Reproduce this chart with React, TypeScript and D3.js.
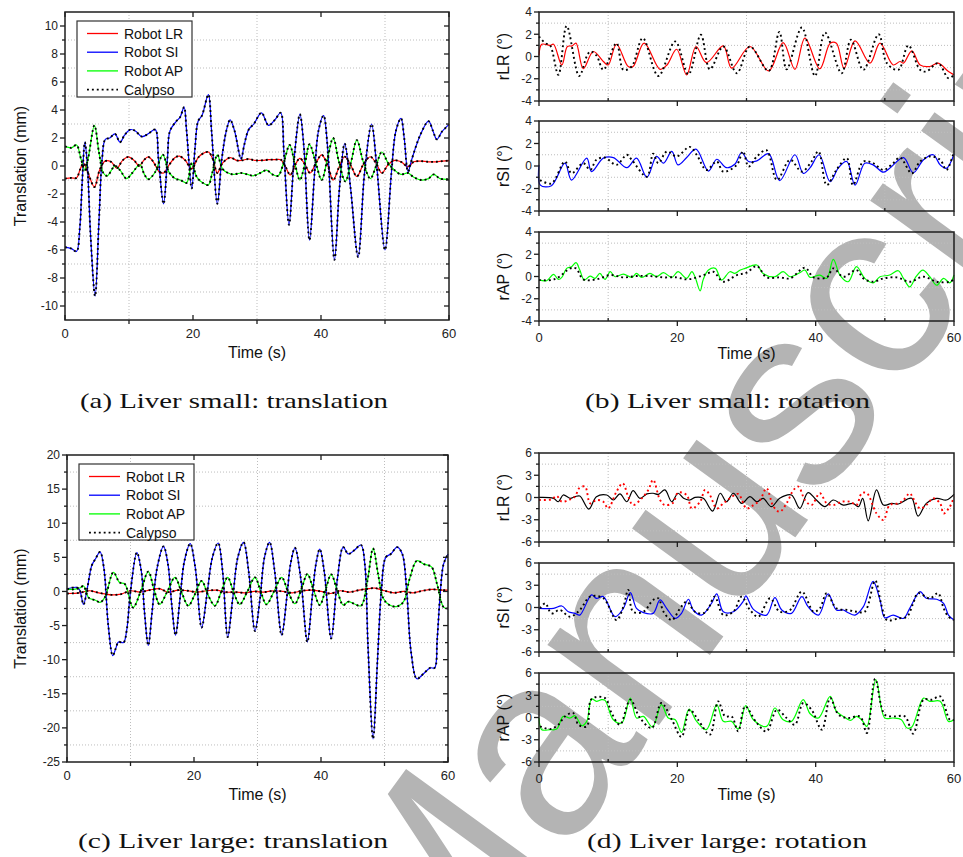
import React, { useEffect, useRef } from "react";
import * as d3 from "d3";

type Pt = [number, number];

// ---- tick labels ----
const timeTicks = [0, 20, 40, 60];
const smallTransTicks = [-10, -8, -6, -4, -2, 0, 2, 4, 6, 8, 10];
const largeTransTicks = [-25, -20, -15, -10, -5, 0, 5, 10, 15, 20];
const smallRotTicks = [-4, -2, 0, 2, 4];
const largeRotTicks = [-6, -3, 0, 3, 6];

const legendLabels = ["Robot LR", "Robot SI", "Robot AP", "Calypso"];
const rotLabels = ["rLR (°)", "rSI (°)", "rAP (°)"];
const captions = [
  "(a) Liver small: translation",
  "(b) Liver small: rotation",
  "(c) Liver large: translation",
  "(d) Liver large: rotation",
];
const watermark = "Manuscript";

// ---- (a) liver small, translation (mm) ----
const smallRobotLR: Pt[] = [[0,-0.9],[1.0,-0.85],[1.8,-0.85],[2.4,-0.2],[2.9,0.2],[3.6,-0.5],[4.6,-1.5],[5.4,-0.3],[6.25,0.35],[7.2,0.3],[8.1,-0.15],[9.0,0.4],[9.9,0.65],[10.8,0.4],[11.6,0.0],[12.3,0.4],[13.0,0.65],[13.8,0.3],[14.7,-0.4],[15.4,-0.5],[16.3,0.1],[17.2,0.6],[17.9,0.7],[18.8,0.4],[19.8,-0.2],[20.8,0.6],[21.6,0.9],[22.4,1.0],[23.1,0.5],[23.8,-0.5],[24.6,0.2],[25.8,0.6],[26.8,0.4],[27.6,0.4],[28.7,0.5],[29.7,0.4],[30.7,0.4],[31.8,0.45],[32.8,0.45],[33.7,0.45],[34.4,0.0],[35.2,-0.64],[36.0,0.1],[36.7,0.55],[37.5,0.1],[38.3,-0.5],[39.2,0.2],[40.1,0.8],[41.0,0.1],[41.9,-1.0],[42.8,-0.1],[43.7,0.66],[44.7,0.0],[45.6,-0.75],[46.6,0.1],[47.7,0.66],[48.6,0.2],[49.5,-0.5],[50.5,0.1],[51.5,0.4],[52.5,0.3],[53.6,-0.05],[54.5,0.3],[55.5,0.35],[56.8,0.3],[58.0,0.3],[59.0,0.35],[60,0.38]];
const smallRobotSI: Pt[] = [[0,-5.8],[1.0,-5.9],[1.8,-6.1],[2.3,-4.5],[2.7,-1],[3.1,1.7],[3.5,0],[4.0,-5],[4.7,-9.3],[5.3,-4],[5.8,0.5],[6.3,1.9],[7.0,2.0],[7.8,2.3],[8.6,1.7],[9.3,2.2],[10.2,2.6],[11.0,2.5],[12.0,2.1],[13.0,2.3],[14.1,2.6],[14.6,0.5],[15.4,-2.7],[16.0,0.5],[16.4,2.5],[17.4,3.2],[18.0,3.5],[18.6,4.2],[19.0,2.5],[19.8,-1.6],[20.3,1.2],[20.8,3.2],[21.4,3.6],[22.4,5.1],[22.9,2.5],[23.8,-2.7],[24.5,0.5],[25.2,2.5],[25.8,3.3],[26.5,2.5],[27.5,0.5],[28.0,1.5],[28.7,2.6],[29.5,3.0],[30.7,3.8],[31.8,2.9],[32.8,3.3],[33.7,3.8],[34.2,1],[35.0,-4.2],[35.8,0.5],[36.7,3.7],[37.3,1.5],[38.2,-5.3],[39.0,-0.5],[39.6,2.5],[40.4,3.6],[41.0,1.5],[42.1,-6.7],[42.9,-1.5],[43.7,1.6],[44.6,-1.5],[45.8,-6.5],[46.8,-0.5],[47.9,3.0],[48.7,0],[50.0,-6.0],[51.0,-0.5],[51.7,2.5],[52.5,3.4],[53.0,2.0],[53.6,-0.4],[54.2,0.5],[55.5,2.2],[56.8,3.2],[57.5,2.5],[58.1,1.9],[58.9,2.45],[60,2.97]];
const smallRobotAP: Pt[] = [[0,1.4],[1.0,1.3],[1.8,1.5],[2.5,0.5],[3.1,-0.3],[3.6,0.5],[4.6,2.9],[5.3,1.0],[6.0,-0.5],[6.6,-0.7],[7.8,0.0],[8.6,-0.3],[9.6,-0.9],[10.5,-0.5],[11.7,0.1],[12.4,-0.6],[13.0,-0.95],[14.0,-0.5],[15.3,0.8],[16.2,-0.4],[17.2,-0.9],[18.0,-1.0],[19.0,-1.2],[19.8,0.2],[20.6,-0.8],[21.5,-1.2],[22.4,-1.35],[23.0,-0.5],[23.8,0.8],[24.6,-0.2],[25.5,-0.5],[26.3,-0.6],[27.5,-0.5],[28.5,-0.6],[29.4,-0.7],[30.5,-0.5],[31.5,-0.3],[32.4,-0.6],[33.3,-0.7],[34.2,0.3],[35.1,1.5],[35.9,0.2],[36.7,-1.0],[37.5,0.2],[38.2,1.55],[39.2,0.2],[40.1,-1.0],[41.0,0.5],[41.9,2.0],[42.8,0.3],[43.8,-1.1],[44.7,0.3],[45.6,1.85],[46.6,0.3],[47.7,-0.9],[48.6,0],[49.5,1.0],[50.5,0.2],[51.5,-0.3],[52.5,-0.6],[53.6,-0.5],[54.5,-0.8],[55.7,-1.0],[56.8,-0.9],[57.6,-0.6],[58.6,-0.9],[60,-0.95]];
// Calypso traces lie on top of the robot traces in the translation plots
const smallCalypsoLR = smallRobotLR;
const smallCalypsoSI = smallRobotSI;
const smallCalypsoAP = smallRobotAP;

// ---- (b) liver small, rotation (deg) ----
const smallRobotRLR: Pt[] = [[0,0.1],[0.4,1.1],[1.6,1.0],[2.1,1.1],[3.3,-0.76],[4.1,0.9],[4.8,0.95],[5.35,1.2],[6.4,-1.1],[7.85,0.45],[9.3,-0.45],[10.0,-0.76],[11.2,1.1],[12.9,-0.9],[13.6,-0.9],[15.2,1.2],[17.5,-1.15],[18.5,-0.76],[19.9,0.65],[21.35,-1.65],[22.7,0.9],[24.2,-0.55],[26.65,0.95],[27.85,-1.05],[30.5,0.9],[33.2,-1.3],[35.3,1.25],[37.0,-1.15],[38.45,1.65],[40.6,-1.1],[42.1,1.2],[43.0,1.2],[44.1,-1.05],[45.7,1.4],[47.85,-0.6],[49.3,1.2],[51.2,-0.76],[52.2,-0.45],[52.7,-0.6],[53.9,0.5],[55.1,-0.76],[56.5,-0.9],[57.7,-0.6],[59.2,-1.35],[60,-1.65]];
const smallCalypsoRLR: Pt[] = [[0,1.8],[0.9,1.2],[1.6,1.0],[2.8,-1.65],[4.0,2.75],[5.8,-1.75],[6.9,0],[7.4,0.45],[8.3,0.1],[9.3,-1.2],[11.2,1.2],[12.2,-1.2],[13.4,-0.9],[15.0,1.65],[17.25,-1.75],[19.7,1.35],[21.6,-1.6],[23.4,1.95],[24.7,-1.15],[26.65,0.9],[28.6,-1.5],[30.5,0.9],[33.2,-1.3],[34.75,2.2],[35.8,-1.15],[38.0,2.6],[39.9,-1.75],[41.35,2.15],[43.75,-1.5],[45.1,1.5],[46.9,-1.2],[49.1,2.0],[50.3,-0.6],[51.95,-1.2],[53.4,1.0],[55.1,-1.2],[56.0,-1.35],[57.7,-0.6],[59.2,-1.95],[60,-1.65]];
const smallRobotRSI: Pt[] = [[0,0.1],[0.2,-1.7],[1.8,-1.75],[3.75,0.25],[4.7,-1.25],[6.9,0.7],[7.6,-0.5],[9.3,0.7],[10.75,0.75],[12.7,-0.15],[14.1,0.7],[15.6,-1.0],[17.0,0.85],[18.0,0.25],[19.2,1.3],[20.1,0.1],[21.35,0.75],[22.7,1.5],[24.5,-0.45],[25.7,0.6],[27.1,-0.15],[28.3,0.15],[29.3,1.2],[30.3,0.4],[31.5,0.45],[33.2,1.1],[34.8,-1.3],[37.0,1.0],[38.2,-0.65],[39.2,-0.15],[40.5,1.0],[42.1,-1.4],[43.3,-0.15],[44.5,0.4],[45.7,-1.7],[47.1,0.25],[48.3,0.1],[49.8,-0.55],[50.7,-0.2],[52.7,0.75],[54.1,-0.6],[55.6,0.55],[57.0,1.0],[58.0,0.1],[58.9,-0.2],[60,1.05]];
const smallCalypsoRSI: Pt[] = [[0.15,-1.25],[1.8,-1.55],[3.75,0.4],[4.7,-0.65],[6.4,0.25],[7.4,-0.35],[8.3,0.55],[9.5,0.75],[11.2,0.1],[12.7,1.0],[13.4,0.55],[15.6,-0.95],[16.5,1.1],[17.25,0.25],[18.5,1.3],[19.9,0.85],[21.8,1.7],[22.8,1.0],[24.2,-0.35],[25.7,0.4],[26.65,-0.5],[28.6,0.1],[29.5,1.3],[30.3,-0.05],[31.5,0.85],[32.9,1.4],[34.4,-1.25],[36.3,0.55],[38.0,-0.5],[39.4,0.4],[40.4,1.3],[41.6,-1.7],[43.0,-0.35],[44.5,0.7],[45.4,-1.7],[46.9,0.4],[48.3,0.25],[49.8,-0.35],[51.2,0.25],[52.2,0.75],[53.9,-0.65],[55.1,0.4],[56.5,0.85],[58.0,0.55],[58.9,-0.35],[60,1.3]];
const smallRobotRAP: Pt[] = [[0,-0.3],[1.1,-0.38],[2.1,0.19],[2.8,-0.26],[3.3,-0.08],[4.0,0.73],[4.7,0.88],[5.35,1.24],[5.9,0.58],[6.55,-0.32],[7.4,0.04],[8.1,-0.17],[8.8,0.28],[9.55,-0.26],[10.3,0.43],[11.0,-0.02],[12.2,0.22],[13.4,-0.08],[14.1,0.28],[14.85,-0.08],[16.05,0.28],[17.0,-0.02],[18.0,0.34],[19.2,-0.08],[20.1,0.43],[21.35,-0.17],[22.1,0.43],[22.55,-0.02],[23.3,-1.29],[23.75,-0.26],[24.5,0.58],[25.5,0.73],[26.4,-0.32],[27.6,0.43],[28.3,0.28],[29.1,0.58],[29.8,0.73],[31.5,1.03],[32.4,0.28],[34.1,-0.02],[35.3,0.43],[36.3,-0.02],[37.7,0.34],[38.45,0.58],[39.2,-0.08],[40.6,0.13],[41.6,-0.17],[42.55,1.54],[43.5,0.13],[44.7,-0.47],[45.9,0.88],[47.1,-0.17],[48.3,-0.57],[49.3,-0.02],[50.7,0.13],[51.95,0.52],[52.7,-0.17],[53.6,-0.93],[54.5,-0.02],[55.5,0.58],[56.5,-0.02],[57.5,-0.78],[58.5,-0.17],[59.4,-0.57],[60,0.13]];
const smallCalypsoRAP: Pt[] = [[0,-0.32],[1.8,-0.32],[2.8,-0.08],[4.5,0.73],[5.35,0.73],[6.4,-0.26],[8.3,-0.26],[10.3,0.13],[12.2,-0.08],[14.1,0.04],[16.05,0.04],[18.0,-0.08],[19.9,-0.08],[21.35,-0.26],[22.8,-0.08],[24.2,0.22],[25.2,0.43],[26.65,-0.47],[28.6,0.13],[30.0,0.34],[31.5,0.94],[32.9,-0.08],[34.8,-0.08],[36.3,-0.17],[38.45,0.79],[39.7,-0.08],[41.6,-0.08],[42.55,0.73],[44.0,-0.02],[45.9,0.58],[46.9,-0.17],[48.3,-0.47],[49.8,-0.17],[51.7,-0.08],[53.6,-0.47],[55.6,-0.02],[57.5,-0.47],[59.4,-0.47],[60,-0.26]];

// ---- (c) liver large, translation (mm) ----
const largeRobotLR: Pt[] = [[0,-0.3],[2.0,-0.2],[3.5,0.1],[5.0,-0.2],[7.0,-0.5],[8.5,-0.4],[10.0,0.1],[11.5,-0.1],[13.0,0.2],[14.5,0.4],[16.0,-0.1],[17.5,0.2],[19.0,0.1],[20.5,-0.1],[22.0,0.1],[23.5,0.2],[25.0,-0.1],[26.5,-0.1],[28.0,-0.2],[29.5,0.0],[31.0,-0.1],[32.5,0.1],[34.0,0.0],[35.5,-0.2],[37.0,0.1],[38.5,0.2],[40.0,0.0],[41.5,-0.3],[43.0,0.1],[44.5,-0.1],[46.0,0.2],[47.5,0.4],[48.5,0.5],[50.0,0.1],[51.5,-0.2],[53.0,0.0],[54.5,-0.2],[56.0,0.1],[57.5,0.3],[59.0,0.2],[60,0.2]];
const largeRobotSI: Pt[] = [[0,0.35],[1.5,0.6],[2.0,0.2],[2.6,-1.9],[3.2,0.5],[3.9,3.8],[4.5,4.8],[5.2,5.8],[5.8,3.5],[6.5,-5],[7.2,-9.4],[7.7,-8.3],[8.1,-7.4],[8.9,-7.5],[9.4,-5.7],[10.0,0],[11.0,5.7],[11.7,3],[12.2,-3],[12.8,-7.9],[13.4,-3],[14.2,3.5],[15.2,6.6],[15.9,4],[16.5,-2],[17.1,-6.4],[17.8,-1],[18.5,4.5],[19.4,7.0],[20.2,3.5],[21.2,-5.3],[22.1,0],[22.9,5],[23.8,7.1],[24.5,3],[25.3,-6.7],[26.1,-1],[26.9,5],[27.8,7.2],[28.6,3],[29.6,-5.8],[30.4,-1],[31.1,5],[31.9,7.2],[32.7,3],[33.8,-6.4],[34.6,-1],[35.2,4],[35.9,6.4],[36.8,2],[37.85,-7.4],[38.6,-1],[39.2,4],[39.8,6.2],[40.5,3],[41.6,-6.9],[42.6,2],[43.5,6.5],[44.3,5.5],[45.2,6.0],[46.3,6.8],[46.9,4],[47.4,-8],[48.2,-21.6],[48.9,-10],[49.5,0],[50.2,5.0],[51.0,5.5],[52.0,6.5],[52.8,5.5],[53.5,0],[54.2,-9],[55.1,-12.8],[56.1,-12.1],[57.2,-11.2],[57.9,-11.2],[58.3,-7],[58.8,0],[59.3,4],[60,5.5]];
const largeRobotAP: Pt[] = [[0,0.35],[1.0,0.3],[2.0,0.5],[2.6,0.8],[3.4,-0.9],[4.5,-1.3],[5.2,-1.6],[6.0,-0.8],[7.3,2.8],[8.3,1.3],[9.1,1.1],[10.4,-2.35],[11.6,0],[12.8,2.9],[13.7,0.3],[14.6,-1.9],[15.8,0],[17.0,2.05],[18.0,0],[19.1,-2.1],[20.1,-0.5],[21.2,1.55],[22.2,-0.5],[23.3,-2.1],[24.3,0],[25.3,2.05],[26.2,0],[27.2,-1.9],[28.4,0],[29.6,2.05],[30.5,0],[31.4,-1.9],[32.6,0],[33.8,2.05],[34.8,0],[35.9,-1.8],[36.9,0.3],[37.85,2.55],[38.8,0.3],[39.8,-2.0],[40.7,0.2],[41.6,2.5],[42.6,0],[43.5,-2.0],[44.3,-1.5],[45.2,-1.8],[46.3,-2.1],[47.3,1.5],[48.2,6.3],[49.0,2.5],[49.8,-1],[50.8,-2.0],[52.0,-2.2],[53.0,-1.5],[54.0,2],[55.1,4.5],[56.2,4.0],[57.4,3.6],[58.3,1],[59.3,-2.3],[60,-2.5]];
const largeCalypsoLR = largeRobotLR;
const largeCalypsoSI = largeRobotSI;
const largeCalypsoAP = largeRobotAP;

// ---- (d) liver large, rotation (deg) ----
const largeRobotRLR: Pt[] = [[0,0.02],[2.1,-0.11],[2.8,-0.57],[3.5,0.34],[4.5,-0.11],[5.2,0.11],[5.9,0.2],[7.2,-1.56],[8.3,0.11],[9.8,0.34],[10.75,-0.34],[11.7,0.48],[12.7,-0.57],[13.6,0.93],[14.6,-0.11],[15.6,0.48],[16.5,0.57],[17.25,0.43],[18.2,1.02],[19.2,-0.57],[20.1,0.57],[20.9,-0.11],[21.8,-0.34],[22.55,0.02],[23.75,-0.11],[25.1,-1.83],[26.2,0.57],[27.1,-0.57],[28.1,0.57],[29.3,-0.79],[30.5,0.11],[31.5,-0.57],[32.4,-0.11],[33.6,-1.24],[34.8,-0.11],[36.5,0.34],[37.7,-1.47],[38.9,0.66],[40.1,-0.34],[41.35,-1.24],[42.55,-0.34],[44.0,-1.02],[45.4,-0.79],[46.2,-1.24],[46.8,-0.11],[47.6,-3.14],[48.8,1.02],[49.8,-1.02],[51.0,-0.79],[51.95,-0.88],[53.2,-0.25],[53.9,-0.11],[54.8,-2.51],[56.0,-0.79],[57.5,-0.11],[58.9,-0.34],[60,0.43]];
const largeCalypsoRLR: Pt[] = [[0,-0.34],[1.8,-0.25],[2.55,0.2],[3.3,-0.57],[4.25,-0.34],[5.2,0.11],[5.8,1.24],[6.65,1.47],[7.4,-0.79],[8.3,-0.34],[9.3,-0.57],[10.0,-1.47],[11.2,0.79],[12.1,1.92],[12.9,0.11],[13.6,-1.02],[14.85,-0.11],[15.8,1.02],[16.5,2.38],[17.5,-0.34],[18.2,-1.02],[19.4,-0.7],[20.1,0.66],[21.35,0.34],[22.1,-1.47],[23.3,-0.57],[24.0,1.02],[24.7,0.34],[25.7,-1.47],[26.65,-0.79],[27.6,-0.11],[28.8,0.48],[30.0,-1.47],[31.0,-1.02],[31.95,-0.34],[32.9,1.24],[33.9,-1.24],[34.8,-1.92],[35.8,-0.79],[36.8,1.02],[37.5,1.47],[38.45,-0.34],[39.4,-1.02],[40.6,0.57],[41.6,-0.79],[42.55,-1.02],[43.75,-0.57],[45.0,-0.57],[45.9,-1.02],[46.65,0.57],[47.4,0.57],[48.8,-2.15],[49.8,-3.05],[50.7,-1.02],[51.95,-0.79],[52.7,-0.34],[53.6,0.57],[54.1,-0.11],[55.1,-1.47],[56.0,-1.02],[57.0,-0.11],[58.0,-0.79],[58.5,-2.15],[59.4,-1.24],[60,0.11]];
const largeRobotRSI: Pt[] = [[0,-0.11],[2.1,-0.11],[3.3,0.2],[4.25,-0.57],[5.2,-0.79],[5.9,-1.02],[7.6,1.7],[8.3,1.24],[9.3,1.47],[11.0,-1.24],[12.2,-0.11],[13.2,2.01],[14.1,-0.11],[15.1,-0.7],[16.5,-0.79],[17.5,1.02],[18.45,-0.11],[19.7,-1.47],[20.6,-0.79],[21.6,1.11],[22.3,-0.34],[23.5,-1.02],[24.95,0.57],[25.7,1.83],[26.65,-0.57],[28.1,-0.57],[29.5,0.79],[29.9,1.56],[31.0,-0.25],[32.9,-1.02],[34.1,1.33],[35.1,-0.34],[36.5,-0.79],[38.0,1.47],[38.9,0.11],[40.4,-1.02],[41.8,1.83],[43.0,-0.34],[44.0,-0.34],[44.7,-0.7],[45.7,-1.02],[46.9,0.11],[48.3,3.51],[49.3,1.02],[50.0,-1.38],[51.2,-1.02],[52.7,-1.47],[53.6,-0.11],[55.1,2.15],[56.0,1.24],[57.5,1.11],[58.5,0.57],[59.2,-1.02],[60,-1.7]];
const largeCalypsoRSI: Pt[] = [[0.15,-0.11],[0.9,0.57],[1.8,-0.79],[3.0,-0.34],[4.5,-1.24],[5.9,-0.34],[7.4,1.47],[9.3,1.24],[11.2,-1.7],[12.2,0.11],[12.9,2.38],[13.6,-0.57],[15.1,-0.57],[16.5,1.02],[17.25,1.24],[18.0,-0.57],[19.2,-1.7],[20.4,-0.11],[21.35,0.79],[22.55,-0.57],[23.75,-0.79],[24.5,-0.11],[25.4,1.47],[26.65,-1.02],[28.1,-0.57],[29.3,1.47],[30.5,-0.34],[31.7,-1.24],[33.4,1.24],[34.8,-0.57],[36.3,-0.34],[38.0,2.15],[39.7,-0.57],[40.6,-0.11],[41.6,1.92],[43.0,-0.11],[44.7,-0.34],[45.9,-0.57],[47.1,-0.57],[48.6,3.64],[49.5,0.34],[50.3,-1.7],[51.95,-1.47],[53.2,-1.24],[54.1,0.57],[54.8,1.92],[56.5,1.24],[57.7,1.92],[58.5,-0.11],[59.2,-1.24],[60,-1.7]];
const largeRobotRAP: Pt[] = [[0,-0.07],[0.4,-1.64],[1.6,-1.64],[2.55,-1.56],[3.5,0.15],[4.5,-0.07],[5.2,0.24],[6.2,-1.11],[6.9,-0.52],[7.6,2.49],[8.3,2.18],[9.05,2.4],[9.55,2.31],[10.75,-0.3],[11.95,-0.75],[13.2,2.62],[14.1,-0.07],[15.1,0.15],[16.4,-1.29],[17.7,1.73],[18.7,-0.07],[19.7,-0.3],[20.6,-2.0],[21.7,1.14],[22.8,-0.52],[24.2,-1.64],[25.7,1.73],[26.65,-0.52],[27.85,-0.52],[28.8,-1.56],[29.9,1.6],[31.0,-0.3],[32.9,-1.2],[34.1,1.28],[35.3,-0.3],[36.5,-0.52],[38.2,2.4],[39.2,0.51],[40.4,-0.07],[42.1,2.85],[43.0,0.83],[44.0,0.15],[45.0,-0.39],[45.9,0.15],[46.65,-0.3],[47.4,-1.2],[48.7,5.1],[50.0,-0.07],[51.2,-0.07],[52.4,-0.3],[53.2,-1.42],[53.9,-1.29],[55.6,2.62],[56.5,2.18],[58.0,2.18],[59.2,-0.52],[60,-0.3]];
const largeCalypsoRAP: Pt[] = [[0.15,-1.2],[1.6,-1.56],[2.8,-0.97],[3.75,0.15],[4.95,0.6],[5.7,-0.97],[6.9,-1.2],[7.6,2.49],[9.55,2.62],[10.5,0.6],[11.7,-0.97],[13.2,2.4],[14.6,-0.07],[16.3,-1.42],[17.7,1.95],[19.2,-0.3],[20.6,-2.63],[21.8,1.05],[23.0,-0.3],[24.7,-2.31],[25.9,2.18],[26.9,0.15],[27.85,0.15],[28.8,-1.87],[29.8,1.5],[31.5,-0.75],[32.9,-1.87],[34.4,1.05],[35.8,-0.07],[37.0,-0.97],[38.2,1.95],[39.4,1.05],[40.9,-1.64],[42.1,2.62],[43.3,0.38],[44.7,-0.07],[46.4,0.15],[47.4,-2.09],[48.6,5.2],[50.0,0.38],[51.5,0.15],[52.9,0.15],[54.1,-2.18],[55.6,2.4],[56.8,2.4],[58.0,2.85],[59.4,-0.3],[60,-0.3]];

const SANS = "'Liberation Sans', Arial, sans-serif";
const SERIF = "'Liberation Serif', 'DejaVu Serif', serif";
const AXIS = "#1e1e1e";
const GRID = "#bdbdbd";

const mids = (a: number[]) => a.slice(1).map((v, i) => (v + a[i]) / 2);

function drawGrid(g: any, x: any, y: any, yTicks: number[]) {
  const [l, r] = x.range();
  const [b, t] = y.range();
  g.append("g").selectAll("line").data(mids(timeTicks)).join("line")
    .attr("x1", (d: number) => x(d)).attr("x2", (d: number) => x(d))
    .attr("y1", t).attr("y2", b)
    .attr("stroke", GRID).attr("stroke-dasharray", "1,2");
  g.append("g").selectAll("line").data(mids(yTicks)).join("line")
    .attr("y1", (d: number) => y(d)).attr("y2", (d: number) => y(d))
    .attr("x1", l).attr("x2", r)
    .attr("stroke", GRID).attr("stroke-dasharray", "1,2");
}

function drawAxes(g: any, x: any, y: any, yTicks: number[], kind: string, xLabels: boolean) {
  const [l, r] = x.range();
  const [b, t] = y.range();
  const xm = mids(timeTicks);
  const ym = mids(yTicks);
  const segs: number[][] = [];
  yTicks.forEach((v) => segs.push([l - 5, y(v), l, y(v)]));
  ym.forEach((v) => segs.push([l - 3, y(v), l, y(v)]));
  if (kind === "trans") {
    yTicks.forEach((v) => segs.push([r - 5, y(v), r, y(v)]));
    ym.forEach((v) => segs.push([r - 3, y(v), r, y(v)]));
    timeTicks.forEach((v) => segs.push([x(v), t, x(v), t + 5]));
    timeTicks.forEach((v) => segs.push([x(v), b - 5, x(v), b]));
    xm.forEach((v) => segs.push([x(v), b, x(v), b + 4]));
  } else {
    timeTicks.forEach((v) => segs.push([x(v), b, x(v), b + 5]));
    xm.forEach((v) => segs.push([x(v), b - 3, x(v), b]));
  }
  g.append("g").selectAll("line").data(segs).join("line")
    .attr("x1", (d: number[]) => d[0]).attr("y1", (d: number[]) => d[1])
    .attr("x2", (d: number[]) => d[2]).attr("y2", (d: number[]) => d[3])
    .attr("stroke", AXIS).attr("stroke-width", 1.3);
  g.append("rect").attr("x", l).attr("y", t).attr("width", r - l).attr("height", b - t)
    .attr("fill", "none").attr("stroke", AXIS).attr("stroke-width", 1.5);
  g.append("g").selectAll("text").data(yTicks).join("text")
    .attr("x", l - 7).attr("y", (d: number) => y(d)).attr("dy", "0.36em")
    .attr("text-anchor", "end").attr("font-family", SANS).attr("font-size", 12)
    .attr("fill", "#222").text((d: number) => d);
  if (xLabels) {
    g.append("g").selectAll("text").data(timeTicks).join("text")
      .attr("x", (d: number) => x(d)).attr("y", b + (kind === "trans" ? 17.5 : 20.5))
      .attr("text-anchor", "middle").attr("font-family", SANS).attr("font-size", 13)
      .attr("fill", "#222").text((d: number) => d);
    g.append("text").attr("x", (l + r) / 2).attr("y", b + 37.5)
      .attr("text-anchor", "middle").attr("font-family", SANS).attr("font-size", 16)
      .attr("fill", "#111").text("Time (s)");
  }
}

function drawSeries(g: any, x: any, y: any, data: Pt[], color: string, dotted: boolean) {
  const line = d3.line<Pt>().x((d) => x(d[0])).y((d) => y(d[1])).curve(d3.curveCatmullRom.alpha(0.5));
  g.append("path").attr("d", line(data)).attr("fill", "none").attr("stroke", color)
    .attr("stroke-width", dotted ? 1.9 : 1.2)
    .attr("stroke-dasharray", dotted ? "1.9,3" : null);
}

function yTitle(g: any, cx: number, cy: number, label: string) {
  g.append("text").attr("transform", `translate(${cx},${cy}) rotate(-90)`)
    .attr("text-anchor", "middle").attr("font-family", SANS).attr("font-size", 16)
    .attr("fill", "#111").text(label);
}

function transPanel(svg: any, box: any, ticks: number[], domain: number[], robot: Pt[][], calypso: Pt[][]) {
  const g = svg.append("g");
  const x = d3.scaleLinear().domain([0, 60]).range([box.left, box.right]);
  const y = d3.scaleLinear().domain(domain).range([box.bottom, box.top]);
  drawGrid(g, x, y, ticks);
  const colors = ["#ff0000", "#0000ff", "#00ff00"];
  robot.forEach((s, i) => drawSeries(g, x, y, s, colors[i], false));
  calypso.forEach((s) => drawSeries(g, x, y, s, "#000", true));
  drawAxes(g, x, y, ticks, "trans", true);
  yTitle(g, 25.5, (box.top + box.bottom) / 2, "Translation (mm)");
  // legend
  const lg = g.append("g").attr("transform", `translate(${box.left + 12},${box.top + 9})`);
  lg.append("rect").attr("width", 115).attr("height", 76).attr("fill", "#fff")
    .attr("stroke", "#333").attr("stroke-width", 1.2);
  legendLabels.forEach((lab, i) => {
    const yy = 12.5 + i * 18.7;
    lg.append("line").attr("x1", 10).attr("x2", 41).attr("y1", yy).attr("y2", yy)
      .attr("stroke", i < 3 ? colors[i] : "#000").attr("stroke-width", i < 3 ? 1.3 : 1.9)
      .attr("stroke-dasharray", i < 3 ? null : "1.9,3");
    lg.append("text").attr("x", 47).attr("y", yy + 5).attr("font-family", SANS)
      .attr("font-size", 14).attr("fill", "#111").text(lab);
  });
}

function rotPanel(svg: any, tops: number[], bottoms: number[], ticks: number[], robot: Pt[][], calypso: Pt[][], robotColors: string[], calypsoColors: string[]) {
  tops.forEach((top, i) => {
    const g = svg.append("g");
    const x = d3.scaleLinear().domain([0, 60]).range([539, 954]);
    const y = d3.scaleLinear().domain([ticks[0], ticks[ticks.length - 1]]).range([bottoms[i], top]);
    drawGrid(g, x, y, ticks);
    drawSeries(g, x, y, robot[i], robotColors[i], false);
    drawSeries(g, x, y, calypso[i], calypsoColors[i], true);
    drawAxes(g, x, y, ticks, "rot", i === 2);
    yTitle(g, 509, (top + bottoms[i]) / 2, rotLabels[i]);
  });
}

export default function App() {
  const ref = useRef<SVGSVGElement>(null);
  useEffect(() => {
    const svg = d3.select(ref.current);
    svg.selectAll("*").remove();
    svg.append("rect").attr("width", 963).attr("height", 857).attr("fill", "#fff");
    svg.append("text").attr("transform", "translate(436,1032) rotate(-54)")
      .attr("font-family", SANS).attr("font-size", 260).attr("fill", "#b4b4b4")
      .text(watermark);

    transPanel(svg, { left: 65, right: 449, top: 12, bottom: 320 }, smallTransTicks, [-11, 11],
      [smallRobotLR, smallRobotSI, smallRobotAP], [smallCalypsoLR, smallCalypsoSI, smallCalypsoAP]);
    transPanel(svg, { left: 67, right: 448, top: 455, bottom: 762 }, largeTransTicks, [-25, 20],
      [largeRobotLR, largeRobotSI, largeRobotAP], [largeCalypsoLR, largeCalypsoSI, largeCalypsoAP]);
    rotPanel(svg, [12, 121, 232], [101, 211, 321], smallRotTicks,
      [smallRobotRLR, smallRobotRSI, smallRobotRAP], [smallCalypsoRLR, smallCalypsoRSI, smallCalypsoRAP],
      ["#ff0000", "#0000ff", "#00ff00"], ["#000", "#000", "#000"]);
    rotPanel(svg, [453, 563, 673], [542, 652, 762], largeRotTicks,
      [largeRobotRLR, largeRobotRSI, largeRobotRAP], [largeCalypsoRLR, largeCalypsoRSI, largeCalypsoRAP],
      ["#000", "#0000ff", "#00ff00"], ["#ff0000", "#000", "#000"]);

    const capPos = [[80, 408, 308], [585, 408, 285], [78, 848, 310], [587, 848, 280]];
    captions.forEach((c, i) => {
      svg.append("text").attr("x", capPos[i][0]).attr("y", capPos[i][1])
        .attr("textLength", capPos[i][2]).attr("lengthAdjust", "spacingAndGlyphs")
        .attr("font-family", SERIF).attr("font-size", 21).attr("fill", "#111").text(c);
    });
  }, []);
  return <svg ref={ref} width={963} height={857} style={{ position: "absolute", left: 0, top: 0 }} />;
}
